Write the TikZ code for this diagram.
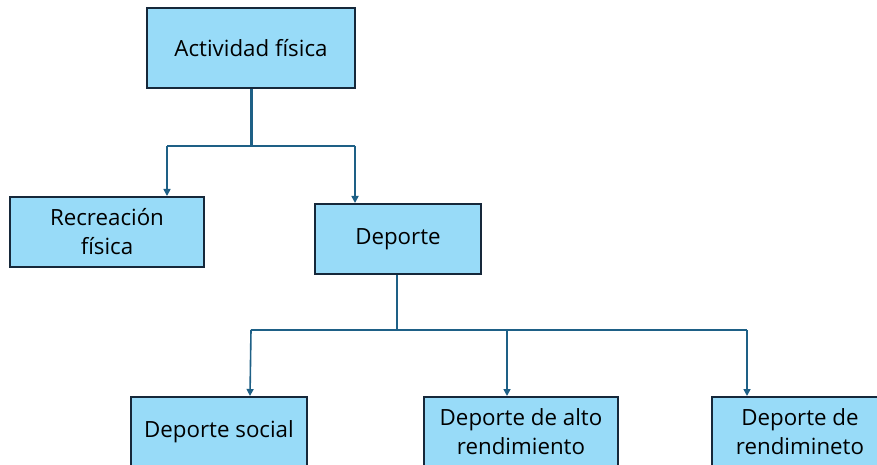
\documentclass[tikz,border=0pt]{standalone}
\usepackage{fontspec}
\setmainfont{Open Sans}
\usetikzlibrary{arrows.meta,calc}
\definecolor{boxfill}{RGB}{152,219,248}
\definecolor{boxline}{RGB}{22,40,58}
\definecolor{conn}{RGB}{30,96,134}
\tikzset{
  box/.style={draw=boxline,line width=2pt,fill=boxfill,align=center,inner sep=0pt,font=\fontsize{22.3}{29}\selectfont},
  link/.style={draw=conn,line width=1.6pt},
  arr/.style={link,-{Triangle[length=7pt,width=7pt]}}
}
\begin{document}
\begin{tikzpicture}[x=1pt,y=1pt]
\useasboundingbox (0,0) rectangle (877,464);
\clip (0,0) rectangle (877,464);
\node[box,minimum width=208pt,minimum height=80pt] (top) at (251,416) {Actividad física};
\node[box,minimum width=194pt,minimum height=70pt] (rec) at (107,232) {Recreación\\física};
\node[box,minimum width=166pt,minimum height=70pt] (dep) at (398,225) {\raisebox{-2pt}{Deporte}};
\node[box,minimum width=176pt,minimum height=70pt] (soc) at (219,32) {Deporte social};
\node[box,minimum width=194pt,minimum height=70pt] (alto) at (521,32) {Deporte de alto\\rendimiento};
\node[box,minimum width=176pt,minimum height=70pt] (rend) at (800,32) {Deporte de\\rendimineto};
\coordinate (j1) at (251,318);
\coordinate (a1) at (167,318);
\coordinate (a2) at (355,318);
\coordinate (j2) at (397,134);
\coordinate (b1) at (251,134);
\coordinate (b2) at (507,134);
\coordinate (b3) at (747,134);
\draw[link,line width=3pt] (top.south) -- (j1);
\draw[link] (a1) -- (a2);
\draw[arr] (a1) -- (a1 |- rec.north);
\draw[arr] (a2) -- (a2 |- dep.north);
\draw[link] (dep.south -| j2) -- (j2);
\draw[link] (b1) -- (b3);
\draw[arr] (b1) -- (250,0 |- soc.north);
\draw[arr] (b2) -- (b2 |- alto.north);
\draw[arr] (b3) -- (b3 |- rend.north);
\end{tikzpicture}
\end{document}
